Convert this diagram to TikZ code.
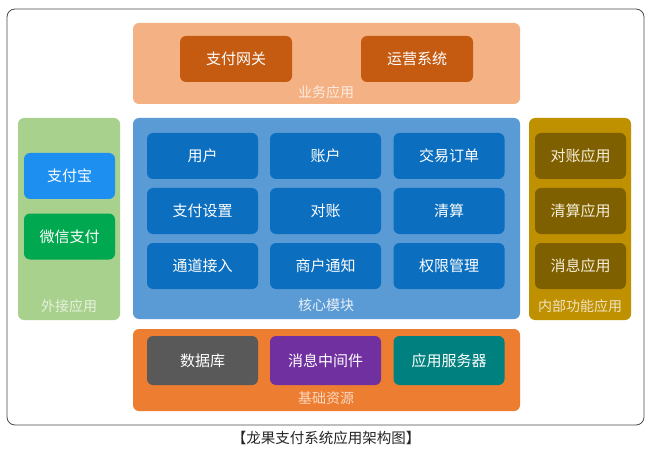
\documentclass[tikz,border=0pt]{standalone}
\usepackage{fontspec}
\setmainfont{Noto Sans CJK SC}
\newfontfamily\cjk{Noto Sans CJK SC}
\definecolor{topbg}{HTML}{F4B183}
\definecolor{topbox}{HTML}{C55A11}
\definecolor{leftbg}{HTML}{A9D18E}
\definecolor{alipay}{HTML}{1C8FF0}
\definecolor{wechat}{HTML}{00A94F}
\definecolor{corebg}{HTML}{5B9BD5}
\definecolor{corebox}{HTML}{0B6EBF}
\definecolor{rightbg}{HTML}{BF9000}
\definecolor{rightbox}{HTML}{7F6000}
\definecolor{botbg}{HTML}{ED7D31}
\definecolor{dbbox}{HTML}{595959}
\definecolor{mqbox}{HTML}{7030A0}
\definecolor{srvbox}{HTML}{00807F}
\begin{document}
\begin{tikzpicture}[x=1pt,y=-1pt,
  panel/.style={rounded corners=6pt, draw=none},
  cell/.style={rounded corners=6pt, draw=none, text=white, font=\cjk\fontsize{15}{17}\selectfont},
  plabel/.style={font=\cjk\fontsize{14}{16}\selectfont},
  ]
\useasboundingbox (0,0) rectangle (652,454);
\fill[white] (0,0) rectangle (652,454);
% outer frame
\draw[rounded corners=8pt, draw=black!70, line width=0.8pt] (7,9) rectangle (644,425);
% top
\fill[panel, topbg] (133,23) rectangle (520,104);
\node[cell, fill=topbox, minimum width=112pt, minimum height=46pt] (gw) at (236,59) {支付网关};
\node[cell, fill=topbox, minimum width=112pt, minimum height=46pt] (ops) at (417,59) {运营系统};
\node[plabel, text=white!75!topbg] (tl) at (326,92) {业务应用};
% left
\fill[panel, leftbg] (18,118) rectangle (120,320);
\node[cell, fill=alipay, minimum width=91pt, minimum height=46pt] (ali) at (69.5,176) {支付宝};
\node[cell, fill=wechat, minimum width=91pt, minimum height=46pt] (wx) at (69.5,236.5) {微信支付};
\node[plabel, text=white!70!leftbg] (ll) at (69,306) {外接应用};
% core
\fill[panel, corebg] (133,118) rectangle (520,319);
\foreach \n/\x/\y/\t in {u/202.5/156/用户, a/325.5/156/账户, o/449/156/交易订单,
  ps/202.5/211/支付设置, r/325.5/211/对账, c/449/211/清算,
  ch/202.5/266/通道接入, mn/325.5/266/商户通知, pm/449/266/权限管理}{
  \node[cell, fill=corebox, minimum width=111pt, minimum height=46pt] (\n) at (\x,\y) {\t};
}
\node[plabel, text=white!85!corebg] (cl) at (326,305) {核心模块};
% right
\fill[panel, rightbg] (529,118) rectangle (631,320);
\foreach \n/\y/\t in {ra/156/对账应用, rc/211/清算应用, rm/266/消息应用}{
  \node[cell, fill=rightbox, text=white!85!rightbg, minimum width=91pt, minimum height=46pt] (\n) at (580.5,\y) {\t};
}
\node[plabel, text=white!75!rightbg] (rl) at (580,306) {内部功能应用};
% bottom
\fill[panel, botbg] (133,329) rectangle (520,411);
\node[cell, fill=dbbox, minimum width=111pt, minimum height=49pt] (db) at (202.5,360.5) {数据库};
\node[cell, fill=mqbox, minimum width=111pt, minimum height=49pt] (mq) at (325.5,360.5) {消息中间件};
\node[cell, fill=srvbox, minimum width=111pt, minimum height=49pt] (srv) at (449,360.5) {应用服务器};
\node[plabel, text=white!70!botbg] (bl) at (326,398) {基础资源};
% caption
\node[font=\cjk\fontsize{14.5}{16}\selectfont, text=black!85] (cap) at (326,438) {【龙果支付系统应用架构图】};
\end{tikzpicture}
\end{document}
